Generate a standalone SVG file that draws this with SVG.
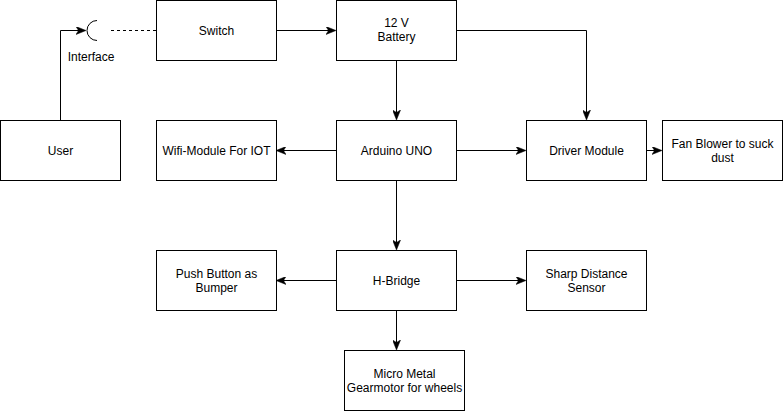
<svg xmlns="http://www.w3.org/2000/svg" width="783" height="411" viewBox="0 0 783 411">
<defs>
<style>
.box{fill:#fff;stroke:#000;stroke-width:1}
.lbl{font-family:"Liberation Sans",Arial,sans-serif;font-size:12px;fill:#000;text-anchor:middle}
.edge{fill:none;stroke:#000;stroke-width:1}
</style>
<marker id="ah" viewBox="0 0 10 8" refX="9" refY="4" markerWidth="10" markerHeight="8" markerUnits="userSpaceOnUse" orient="auto">
<path d="M0,0 L10,4 L0,8 L2.5,4 Z" fill="#000" stroke="#000" stroke-width="0.5"/>
</marker>
</defs>
<rect width="783" height="411" fill="#fff"/>
<g id="connectors">
<path class="edge" d="M60.5,120 V30.5 H85" marker-end="url(#ah)"/>
<path class="edge" d="M97,20.5 A10,10 0 0 0 97,40.5"/>
<path class="edge" d="M111,30.5 H156" stroke-dasharray="3,3"/>
<path class="edge" d="M276,30.5 H335" marker-end="url(#ah)"/>
<path class="edge" d="M396.5,60 V119" marker-end="url(#ah)"/>
<path class="edge" d="M456,30.5 H586.5 V119" marker-end="url(#ah)"/>
<path class="edge" d="M336,150.5 H277" marker-end="url(#ah)"/>
<path class="edge" d="M456,150.5 H525" marker-end="url(#ah)"/>
<path class="edge" d="M646,150.5 H661" marker-end="url(#ah)"/>
<path class="edge" d="M396.5,180 V249" marker-end="url(#ah)"/>
<path class="edge" d="M336,280.5 H277" marker-end="url(#ah)"/>
<path class="edge" d="M456,280.5 H525" marker-end="url(#ah)"/>
<path class="edge" d="M396.5,310 V349" marker-end="url(#ah)"/>
<text class="lbl" x="91" y="61">Interface</text>
</g>
<g id="user"><rect class="box" x="0.5" y="120.5" width="120" height="60"/><text class="lbl" x="60.5" y="155">User</text></g>
<g id="switch"><rect class="box" x="156.5" y="0.5" width="120" height="60"/><text class="lbl" x="216.5" y="35">Switch</text></g>
<g id="battery"><rect class="box" x="336.5" y="0.5" width="120" height="60"/><text class="lbl" x="396.5" y="27">12 V</text><text class="lbl" x="396.5" y="41">Battery</text></g>
<g id="wifi"><rect class="box" x="156.5" y="120.5" width="120" height="60"/><text class="lbl" x="216.5" y="155">Wifi-Module For IOT</text></g>
<g id="arduino"><rect class="box" x="336.5" y="120.5" width="120" height="60"/><text class="lbl" x="396.5" y="155">Arduino UNO</text></g>
<g id="driver"><rect class="box" x="526.5" y="120.5" width="120" height="60"/><text class="lbl" x="586.5" y="155">Driver Module</text></g>
<g id="fan"><rect class="box" x="662.5" y="120.5" width="120" height="60"/><text class="lbl" x="722.5" y="148">Fan Blower to suck</text><text class="lbl" x="722.5" y="162">dust</text></g>
<g id="hbridge"><rect class="box" x="336.5" y="250.5" width="120" height="60"/><text class="lbl" x="396.5" y="285">H-Bridge</text></g>
<g id="pushbutton"><rect class="box" x="156.5" y="250.5" width="120" height="60"/><text class="lbl" x="216.5" y="278">Push Button as</text><text class="lbl" x="216.5" y="292">Bumper</text></g>
<g id="sharp"><rect class="box" x="526.5" y="250.5" width="120" height="60"/><text class="lbl" x="586.5" y="278">Sharp Distance</text><text class="lbl" x="586.5" y="292">Sensor</text></g>
<g id="gearmotor"><rect class="box" x="344.5" y="350.5" width="120" height="60"/><text class="lbl" x="404.5" y="378">Micro Metal</text><text class="lbl" x="404.5" y="392">Gearmotor for wheels</text></g>
</svg>
